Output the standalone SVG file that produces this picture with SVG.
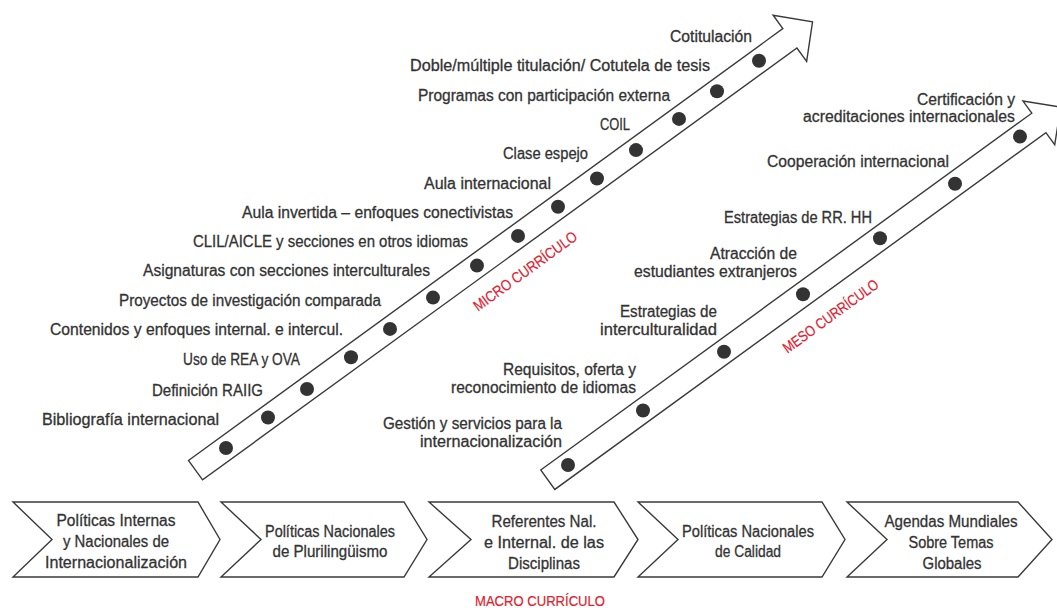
<svg xmlns="http://www.w3.org/2000/svg" width="1057" height="608" viewBox="0 0 1057 608">
<style>
.band{fill:#fff;stroke:#3a3a3a;stroke-width:1.4;stroke-linejoin:miter}
.dot{fill:#333}
.t{font-family:"Liberation Sans",Arial,sans-serif;font-size:16px;fill:#333;stroke:#333;stroke-width:0.3}
.r{text-anchor:end}
.c{text-anchor:middle}
.red{font-family:"Liberation Sans",Arial,sans-serif;font-size:15px;fill:#e0202e;stroke:#e0202e;stroke-width:0.2;text-anchor:middle}
.chev{fill:#fff;stroke:#3a3a3a;stroke-width:1.4}
</style>
<rect width="1057" height="608" fill="#fff"/>
<g id="connectors">
<g id="micro-arrow">
<polygon class="band" transform="translate(226,448) rotate(-36)" points="-37.7,-12 697,-12 697,-28.5 725,0 697,28.5 697,12 -37.7,12"/>
<g class="dot">
<circle cx="226" cy="448" r="7"/><circle cx="268" cy="417.5" r="7"/><circle cx="307" cy="389" r="7"/><circle cx="351" cy="357.2" r="7"/><circle cx="390" cy="328.9" r="7"/><circle cx="433" cy="297.6" r="7"/><circle cx="477" cy="265.6" r="7"/><circle cx="518" cy="235.9" r="7"/><circle cx="558" cy="206.8" r="7"/><circle cx="597" cy="178.5" r="7"/><circle cx="636" cy="150.1" r="7"/><circle cx="679" cy="118.9" r="7"/><circle cx="717" cy="91.3" r="7"/><circle cx="759" cy="60.8" r="7"/>
</g>
<text class="red" transform="translate(226,448) rotate(-36)" x="346" y="38" textLength="124" lengthAdjust="spacingAndGlyphs">MICRO CURRÍCULO</text>
</g>
<g id="meso-arrow">
<polygon class="band" transform="translate(568,465) rotate(-36)" points="-25,-12 582,-12 582,-27 609,0 582,27 582,12 -25,12"/>
<g class="dot">
<circle cx="568" cy="465" r="7"/><circle cx="643" cy="410.5" r="7"/><circle cx="724" cy="351.7" r="7"/><circle cx="803" cy="294.3" r="7"/><circle cx="880" cy="238.3" r="7"/><circle cx="955" cy="183.8" r="7"/><circle cx="1020" cy="136.6" r="7"/>
</g>
<text class="red" transform="translate(568,465) rotate(-36)" x="300" y="39" textLength="114" lengthAdjust="spacingAndGlyphs">MESO CURRÍCULO</text>
</g>
</g>
<g id="micro-labels">
<text class="t r" x="752" y="42" textLength="82" lengthAdjust="spacingAndGlyphs">Cotitulación</text>
<text class="t r" x="710" y="71" textLength="300" lengthAdjust="spacingAndGlyphs">Doble/múltiple titulación/ Cotutela de tesis</text>
<text class="t r" x="670" y="101" textLength="252" lengthAdjust="spacingAndGlyphs">Programas con participación externa</text>
<text class="t r" x="630" y="130" textLength="30" lengthAdjust="spacingAndGlyphs">COIL</text>
<text class="t r" x="588" y="159" textLength="85" lengthAdjust="spacingAndGlyphs">Clase espejo</text>
<text class="t r" x="551" y="189" textLength="127" lengthAdjust="spacingAndGlyphs">Aula internacional</text>
<text class="t r" x="513" y="218" textLength="271" lengthAdjust="spacingAndGlyphs">Aula invertida – enfoques conectivistas</text>
<text class="t r" x="468" y="247" textLength="275" lengthAdjust="spacingAndGlyphs">CLIL/AICLE y secciones en otros idiomas</text>
<text class="t r" x="430" y="276" textLength="287" lengthAdjust="spacingAndGlyphs">Asignaturas con secciones interculturales</text>
<text class="t r" x="381" y="306" textLength="262" lengthAdjust="spacingAndGlyphs">Proyectos de investigación comparada</text>
<text class="t r" x="343" y="335" textLength="293" lengthAdjust="spacingAndGlyphs">Contenidos y enfoques internal. e intercul.</text>
<text class="t r" x="300" y="365" textLength="117" lengthAdjust="spacingAndGlyphs">Uso de REA y OVA</text>
<text class="t r" x="263" y="396" textLength="111" lengthAdjust="spacingAndGlyphs">Definición RAIIG</text>
<text class="t r" x="219" y="425" textLength="177" lengthAdjust="spacingAndGlyphs">Bibliografía internacional</text>
</g>
<g id="meso-labels">
<text class="t r" x="1015" y="105" textLength="98" lengthAdjust="spacingAndGlyphs">Certificación y</text>
<text class="t r" x="1015" y="122" textLength="212" lengthAdjust="spacingAndGlyphs">acreditaciones internacionales</text>
<text class="t r" x="949" y="167" textLength="182" lengthAdjust="spacingAndGlyphs">Cooperación internacional</text>
<text class="t r" x="872" y="223" textLength="148" lengthAdjust="spacingAndGlyphs">Estrategias de RR. HH</text>
<text class="t r" x="797" y="259" textLength="87" lengthAdjust="spacingAndGlyphs">Atracción de</text>
<text class="t r" x="797" y="277" textLength="163" lengthAdjust="spacingAndGlyphs">estudiantes extranjeros</text>
<text class="t r" x="717" y="317" textLength="97" lengthAdjust="spacingAndGlyphs">Estrategias de</text>
<text class="t r" x="717" y="335" textLength="117" lengthAdjust="spacingAndGlyphs">interculturalidad</text>
<text class="t r" x="636" y="375" textLength="133" lengthAdjust="spacingAndGlyphs">Requisitos, oferta y</text>
<text class="t r" x="636" y="393" textLength="185" lengthAdjust="spacingAndGlyphs">reconocimiento de idiomas</text>
<text class="t r" x="562" y="429" textLength="179" lengthAdjust="spacingAndGlyphs">Gestión y servicios para la</text>
<text class="t r" x="562" y="447" textLength="142" lengthAdjust="spacingAndGlyphs">internacionalización</text>
</g>
<g id="macro-1">
<polygon class="chev" points="13,502 198,502 220,539.5 198,577 13,577 52,539.5"/>
<text class="t c" x="116" y="526" textLength="119" lengthAdjust="spacingAndGlyphs">Políticas Internas</text>
<text class="t c" x="116" y="547" textLength="106" lengthAdjust="spacingAndGlyphs">y Nacionales de</text>
<text class="t c" x="116" y="568" textLength="142" lengthAdjust="spacingAndGlyphs">Internacionalización</text>
</g>
<g id="macro-2">
<polygon class="chev" points="221,502 404,502 427,539.5 404,577 221,577 261,539.5"/>
<text class="t c" x="330" y="537" textLength="130" lengthAdjust="spacingAndGlyphs">Políticas Nacionales</text>
<text class="t c" x="330" y="557" textLength="115" lengthAdjust="spacingAndGlyphs">de Plurilingüismo</text>
</g>
<g id="macro-3">
<polygon class="chev" points="429,502 614,502 638,539.5 614,577 429,577 471,539.5"/>
<text class="t c" x="544" y="527" textLength="105" lengthAdjust="spacingAndGlyphs">Referentes Nal.</text>
<text class="t c" x="544" y="548" textLength="120" lengthAdjust="spacingAndGlyphs">e Internal. de las</text>
<text class="t c" x="544" y="569" textLength="72" lengthAdjust="spacingAndGlyphs">Disciplinas</text>
</g>
<g id="macro-4">
<polygon class="chev" points="638,502 822,502 845,539.5 822,577 638,577 678,539.5"/>
<text class="t c" x="748" y="537" textLength="132" lengthAdjust="spacingAndGlyphs">Políticas Nacionales</text>
<text class="t c" x="748" y="557" textLength="66" lengthAdjust="spacingAndGlyphs">de Calidad</text>
</g>
<g id="macro-5">
<polygon class="chev" points="847,502 1018,502 1052,539.5 1018,577 847,577 887,539.5"/>
<text class="t c" x="951" y="527" textLength="133" lengthAdjust="spacingAndGlyphs">Agendas Mundiales</text>
<text class="t c" x="951" y="548" textLength="85" lengthAdjust="spacingAndGlyphs">Sobre Temas</text>
<text class="t c" x="952" y="569" textLength="59" lengthAdjust="spacingAndGlyphs">Globales</text>
</g>
<text class="red" x="540" y="606" textLength="130" lengthAdjust="spacingAndGlyphs">MACRO CURRÍCULO</text>
</svg>
